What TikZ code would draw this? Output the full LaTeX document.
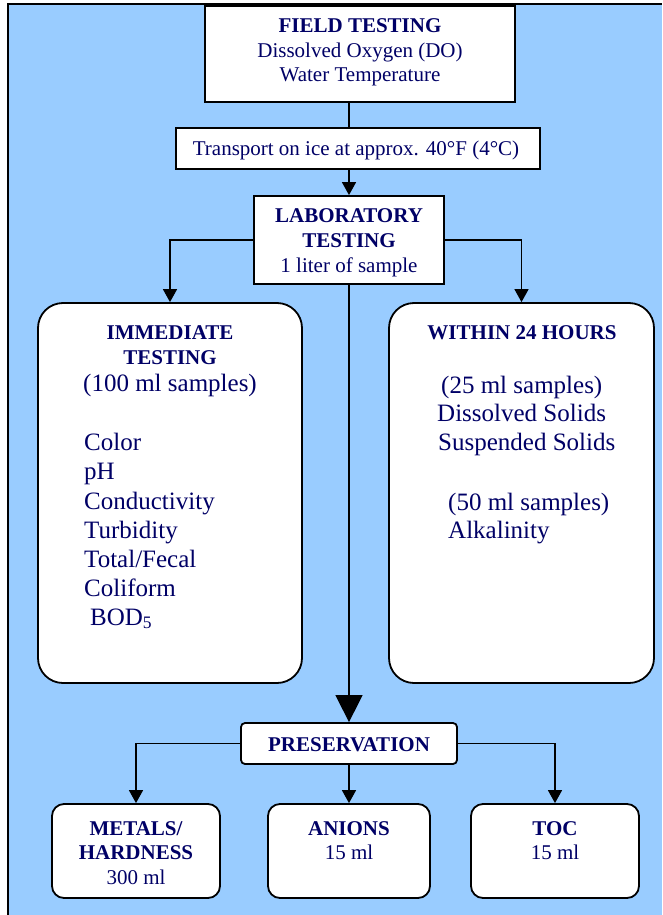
\documentclass[tikz,border=0pt]{standalone}
\usepackage{fontspec}
\setmainfont{Liberation Serif}
\usetikzlibrary{arrows.meta}
\definecolor{bgblue}{HTML}{99CCFF}
\definecolor{navy}{HTML}{000066}
\begin{document}
\begin{tikzpicture}[x=1pt,y=-1pt,
  box/.style={draw=black,fill=white,line width=1.8pt,inner sep=0pt},
  rbox/.style={box,rounded corners=#1},
  hd/.style={text=navy,inner sep=0pt,anchor=base,font=\fontsize{21}{25}\selectfont\bfseries},
  tx/.style={text=navy,inner sep=0pt,anchor=base,font=\fontsize{21}{25}\selectfont},
  lt/.style={text=navy,inner sep=0pt,anchor=base west,font=\fontsize{25}{29}\selectfont},
  lc/.style={text=navy,inner sep=0pt,anchor=base,font=\fontsize{25}{29}\selectfont},
  conn/.style={draw=black,line width=1.5pt},
  arr/.style={conn,-{Triangle[length=13pt,width=14pt]}},
  bigarr/.style={conn,-{Triangle[length=27pt,width=27pt]}}]
\useasboundingbox (0,0) rectangle (662,915);
% background frame
\fill[bgblue] (8,4) rectangle (662,915);
\draw[line width=1.5pt] (8,915) -- (8,4) -- (662,4);
% boxes
\node[box,minimum width=310pt,minimum height=96pt] (field) at (360,54) {};
\node[box,minimum width=364pt,minimum height=41pt] (transport) at (358,148.5) {};
\node[box,minimum width=190pt,minimum height=88pt] (lab) at (349,240) {};
\node[rbox=25pt,minimum width=264pt,minimum height=380pt] (imm) at (170,493) {};
\node[rbox=25pt,minimum width=265pt,minimum height=380pt] (within) at (521.5,493) {};
\node[rbox=4pt,minimum width=216pt,minimum height=41pt] (pres) at (349,743.5) {};
\node[rbox=12pt,minimum width=168pt,minimum height=94pt] (metals) at (136,851) {};
\node[rbox=12pt,minimum width=162pt,minimum height=94pt] (anions) at (349,851) {};
\node[rbox=12pt,minimum width=168pt,minimum height=94pt] (toc) at (555,851) {};
% texts
\node[hd] (t1) at (360,33) {FIELD TESTING};
\node[tx] (t2) at (360,58) {Dissolved Oxygen (DO)};
\node[tx] (t3) at (360,82) {Water Temperature};
\node[tx] (t4) at (356,155) {Transport on ice at approx. 40°F (4°C)};
\node[hd] (t5) at (349,222) {LABORATORY};
\node[hd] (t6) at (349,247) {TESTING};
\node[tx] (t7) at (349,272) {1 liter of sample};
\node[hd] (t8) at (170,339) {IMMEDIATE};
\node[hd] (t9) at (170,364) {TESTING};
\node[lc] (t10) at (170,391) {(100 ml samples)};
\node[lt] (t11) at (84,450) {Color};
\node[lt] (t12) at (84,479) {pH};
\node[lt] (t13) at (84,509) {Conductivity};
\node[lt] (t14) at (84,538) {Turbidity};
\node[lt] (t15) at (84,567) {Total/Fecal};
\node[lt] (t16) at (84,596) {Coliform};
\node[lt] (t17) at (90,625) {BOD\textsubscript{5}};
\node[hd] (t18) at (522,339) {WITHIN 24 HOURS};
\node[lt] (t19) at (441,393) {(25 ml samples)};
\node[lt] (t20) at (437,421) {Dissolved Solids};
\node[lt] (t21) at (438,450) {Suspended Solids};
\node[lt] (t22) at (448,510) {(50 ml samples)};
\node[lt] (t23) at (448,538) {Alkalinity};
\node[hd] (t24) at (349,751) {PRESERVATION};
\node[hd] (t25) at (136,835) {METALS/};
\node[hd] (t26) at (136,859) {HARDNESS};
\node[tx] (t27) at (136,884) {300 ml};
\node[hd] (t28) at (349,835) {ANIONS};
\node[tx] (t29) at (349,859) {15 ml};
\node[hd] (t30) at (555,835) {TOC};
\node[tx] (t31) at (555,859) {15 ml};
% connectors
\draw[conn] (field.south -| lab.center) -- (transport.north -| lab.center);
\draw[arr] (transport.south -| lab.center) -- (lab.north);
\draw[arr] (lab.west) -| (imm.north);
\draw[arr] (lab.east) -| (within.north);
\draw[bigarr] (lab.south) -- (pres.north);
\draw[arr] (pres.west) -| (metals.north);
\draw[arr] (pres.east) -| (toc.north);
\draw[arr] (pres.south) -- (anions.north);
\end{tikzpicture}
\end{document}
